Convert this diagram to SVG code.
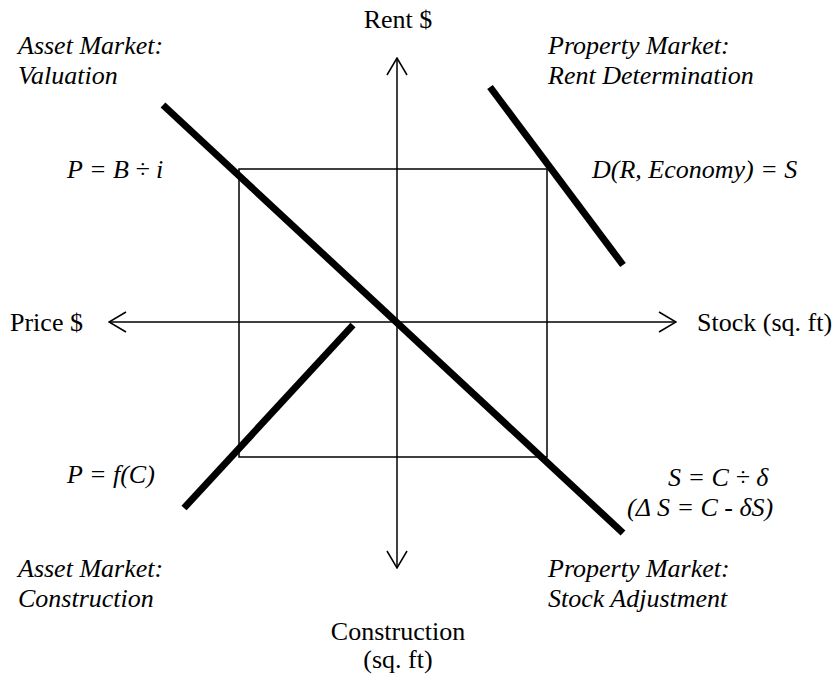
<svg xmlns="http://www.w3.org/2000/svg" width="837" height="677" viewBox="0 0 837 677">
<style>
text{font-family:"Liberation Serif","Times New Roman",Times,serif;font-size:26px;fill:#000}
.it{font-style:italic}
.mid{text-anchor:middle}
.axis{stroke:#000;stroke-width:1.5;fill:none}
.thick{stroke:#000;stroke-width:7;fill:none}
.box{stroke:#000;stroke-width:1.5;fill:none}
</style>
<defs>
<marker id="arr" viewBox="-1 -11 19 22" refX="17" refY="0" markerWidth="19" markerHeight="22" markerUnits="userSpaceOnUse" orient="auto-start-reverse">
<path d="M0,-10 L17,0 L0,10" fill="none" stroke="#000" stroke-width="1.5"/>
</marker>
</defs>
<rect id="frame" class="box" x="239" y="169" width="308" height="288"/>
<g id="connectors">
<line class="axis" x1="397" y1="58" x2="397" y2="568" marker-start="url(#arr)" marker-end="url(#arr)"/>
<line class="axis" x1="109" y1="322" x2="676" y2="322" marker-start="url(#arr)" marker-end="url(#arr)"/>
<line class="thick" x1="163" y1="105" x2="623" y2="533"/>
<line class="thick" x1="490" y1="87" x2="623" y2="265"/>
<line class="thick" x1="353" y1="325" x2="184" y2="508"/>
</g>
<g id="rent-label"><text class="mid" x="398" y="28">Rent $</text></g>
<g id="price-label"><text x="10" y="331">Price $</text></g>
<g id="stock-label"><text x="697" y="331">Stock (sq. ft)</text></g>
<g id="construction-label"><text class="mid" x="398" y="640">Construction</text><text class="mid" x="398" y="668">(sq. ft)</text></g>
<g id="asset-valuation"><text class="it" x="18" y="54">Asset Market:</text><text class="it" x="18" y="84">Valuation</text></g>
<g id="property-rent"><text class="it" x="548" y="54">Property Market:</text><text class="it" x="548" y="84">Rent Determination</text></g>
<g id="eq-valuation"><text class="it" x="67" y="178">P = B ÷ i</text></g>
<g id="eq-rent"><text class="it" x="592" y="178">D(R, Economy) = S</text></g>
<g id="eq-construction"><text class="it" x="67" y="483">P = f(C)</text></g>
<g id="eq-stock"><text class="it" x="668" y="486">S = C ÷ δ</text><text class="it" x="627" y="516">(Δ S = C - δS)</text></g>
<g id="asset-construction"><text class="it" x="18" y="577">Asset Market:</text><text class="it" x="18" y="607">Construction</text></g>
<g id="property-stock"><text class="it" x="548" y="577">Property Market:</text><text class="it" x="548" y="607">Stock Adjustment</text></g>
</svg>
